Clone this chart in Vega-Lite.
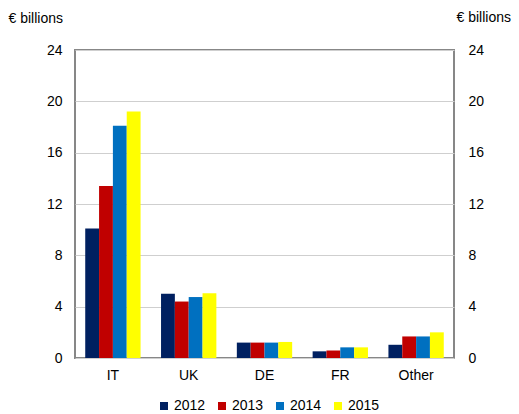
{
  "$schema": "https://vega.github.io/schema/vega-lite/v6.json",
  "width": 379,
  "height": 308,
  "autosize": "none",
  "padding": {"left": 75, "top": 50, "right": 65, "bottom": 56},
  "background": "white",
  "config": {
    "font": "Liberation Sans",
    "view": {"stroke": "#878787", "strokeWidth": 2},
    "axis": {"labelFontSize": 14, "labelColor": "#000000", "titleColor": "#000000", "titleFontSize": 14, "titleFontWeight": "normal", "ticks": false, "domain": false},
    "legend": {"labelFontSize": 14, "labelColor": "#000000"}
  },
  "data": {
    "values": [
      {"country": "IT", "year": "2012", "value": 10.1},
      {"country": "IT", "year": "2013", "value": 13.4},
      {"country": "IT", "year": "2014", "value": 18.1},
      {"country": "IT", "year": "2015", "value": 19.2},
      {"country": "UK", "year": "2012", "value": 5.0},
      {"country": "UK", "year": "2013", "value": 4.4},
      {"country": "UK", "year": "2014", "value": 4.75},
      {"country": "UK", "year": "2015", "value": 5.05},
      {"country": "DE", "year": "2012", "value": 1.2},
      {"country": "DE", "year": "2013", "value": 1.2},
      {"country": "DE", "year": "2014", "value": 1.2},
      {"country": "DE", "year": "2015", "value": 1.25},
      {"country": "FR", "year": "2012", "value": 0.52},
      {"country": "FR", "year": "2013", "value": 0.58},
      {"country": "FR", "year": "2014", "value": 0.83},
      {"country": "FR", "year": "2015", "value": 0.83},
      {"country": "Other", "year": "2012", "value": 1.03},
      {"country": "Other", "year": "2013", "value": 1.68},
      {"country": "Other", "year": "2014", "value": 1.68},
      {"country": "Other", "year": "2015", "value": 2.0}
    ]
  },
  "encoding": {
    "x": {
      "field": "country", "type": "nominal", "sort": ["IT", "UK", "DE", "FR", "Other"],
      "scale": {"paddingInner": 0.27, "paddingOuter": 0.135},
      "axis": {"title": null, "labelAngle": 0, "labelPadding": 10}
    },
    "xOffset": {"field": "year", "type": "nominal", "scale": {"paddingInner": 0, "paddingOuter": 0}}
  },
  "layer": [
    {
      "mark": {"type": "bar"},
      "encoding": {
        "y": {
          "field": "value", "type": "quantitative",
          "scale": {"domain": [0, 24], "nice": false},
          "axis": {"orient": "left", "values": [0, 4, 8, 12, 16, 20, 24], "grid": true, "gridColor": "#cfcfcf", "gridWidth": 1, "labelPadding": 13,
            "title": "€ billions", "titleAngle": 0, "titleAlign": "left", "titleBaseline": "middle", "titleX": -67, "titleY": -32}
        },
        "color": {
          "field": "year", "type": "nominal",
          "scale": {"domain": ["2012", "2013", "2014", "2015"], "range": ["#002060", "#C00000", "#0070C0", "#FFFF00"]},
          "legend": {"title": null, "orient": "none", "direction": "horizontal", "legendX": 82, "legendY": 349, "symbolType": "square", "symbolSize": 64, "symbolStrokeWidth": 0, "labelOffset": 3, "columnPadding": 9}
        }
      }
    },
    {
      "mark": {"type": "bar", "opacity": 0},
      "encoding": {
        "y": {
          "field": "value", "type": "quantitative",
          "axis": {"orient": "right", "values": [0, 4, 8, 12, 16, 20, 24], "grid": false, "labelPadding": 14,
            "title": "€ billions", "titleAngle": 0, "titleAlign": "left", "titleBaseline": "middle", "titleX": 2, "titleY": -33}
        }
      }
    }
  ],
  "resolve": {"axis": {"y": "independent"}}
}
